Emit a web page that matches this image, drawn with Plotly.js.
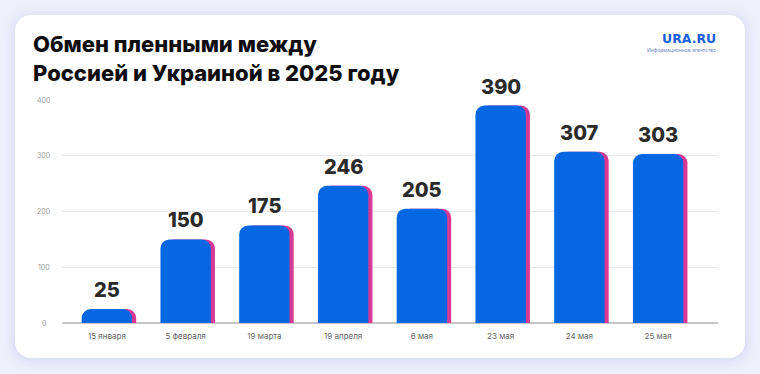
<!DOCTYPE html>
<html>
<head>
<meta charset="utf-8">
<script src="https://cdn.plot.ly/plotly-3.0.1.min.js"></script>
<style>
  html, body { margin: 0; padding: 0; width: 760px; height: 374px; background: #eef0fb; overflow: hidden; }
  #card { position: absolute; left: 15px; top: 15px; width: 730px; height: 343px; background: #ffffff; border-radius: 16px; box-shadow: 0 2px 14px rgba(110, 120, 220, 0.25); }
  #chart { position: absolute; left: 0; top: 0; width: 760px; height: 374px; }
</style>
</head>
<body>
<div id="card"></div>
<div id="chart"></div>
<script>
// ---- data ----
const categories = ["15 января", "5 февраля", "19 марта", "19 апреля", "6 мая", "23 мая", "24 мая", "25 мая"];
const exchanged = [25, 150, 175, 246, 205, 390, 307, 303];
const yTickValues = [0, 100, 200, 300, 400];
const yTickLabels = ["0", "100", "200", "300", "400"];
const titleLines = ["Обмен пленными между", "Россией и Украиной в 2025 году"];
const logoText = "URA.RU";
const logoSub = "Информационное агентство";

// ---- styles ----
const blue = "#0667e3";
const pink = "#d83a93";
const barW = 0.64;
const shadowShift = 0.052;

const traces = [
  {
    type: "bar", x: categories, y: exchanged,
    width: barW, offset: -barW / 2 + shadowShift,
    marker: { color: pink, cornerradius: 9, line: { width: 0 } },
    hoverinfo: "skip", showlegend: false
  },
  {
    type: "bar", x: categories, y: exchanged,
    width: barW, offset: -barW / 2,
    marker: { color: blue, cornerradius: 9, line: { width: 0 } },
    showlegend: false
  }
];

const annotations = [];
// value labels above bars
categories.forEach((c, i) => {
  annotations.push({
    x: c, y: exchanged[i], xref: "x", yref: "y",
    text: String(exchanged[i]), showarrow: false,
    yanchor: "bottom", yshift: 5,
    font: { family: "Inter, sans-serif", size: 20, weight: 800, color: "#2a2a2a" }
  });
});
// y tick labels (centered)
yTickValues.forEach((v, i) => {
  annotations.push({
    x: -0.028, y: v, xref: "paper", yref: "y",
    text: yTickLabels[i], showarrow: false,
    xanchor: "center", yanchor: "middle",
    font: { family: "Inter, sans-serif", size: 7, color: "#9a9a9a" }
  });
});
// title (two lines)
annotations.push({
  x: -0.047, y: 1.318, xref: "paper", yref: "paper",
  text: titleLines.join("<br>"), showarrow: false, xanchor: "left", yanchor: "top", align: "left",
  font: { family: "Inter, sans-serif", size: 22, weight: 800, color: "#0d0d0d" }
});
// logo
annotations.push({
  x: 1.0, y: 1.274, xref: "paper", yref: "paper",
  text: logoText, showarrow: false, xanchor: "right", yanchor: "middle",
  font: { family: "DejaVu Sans, sans-serif", size: 12.5, weight: 700, color: "#1a5fdc" }
});
annotations.push({
  x: 1.0, y: 1.222, xref: "paper", yref: "paper",
  text: logoSub, showarrow: false, xanchor: "right", yanchor: "middle",
  font: { family: "Inter, sans-serif", size: 5, color: "#6f86c8" }
});

const layout = {
  width: 760, height: 374,
  margin: { l: 62, r: 42, t: 100, b: 51 },
  paper_bgcolor: "rgba(0,0,0,0)",
  plot_bgcolor: "rgba(0,0,0,0)",
  barmode: "overlay",
  xaxis: {
    type: "category",
    range: [-0.57, 7.76],
    showgrid: false, zeroline: false, showline: false,
    ticks: "outside", ticklen: 5, tickcolor: "rgba(0,0,0,0)",
    tickfont: { family: "Inter, sans-serif", size: 8, color: "#666666" },
    fixedrange: true
  },
  yaxis: {
    range: [0, 400],
    tickvals: yTickValues,
    showticklabels: false,
    showgrid: true, gridcolor: "#e9e9ec", gridwidth: 1,
    zeroline: true, zerolinecolor: "#c6c6c9", zerolinewidth: 2,
    fixedrange: true
  },
  annotations: annotations,
  font: { family: "Inter, sans-serif" }
};

Plotly.newPlot("chart", traces, layout, { displayModeBar: false, staticPlot: true });
</script>
</body>
</html>
